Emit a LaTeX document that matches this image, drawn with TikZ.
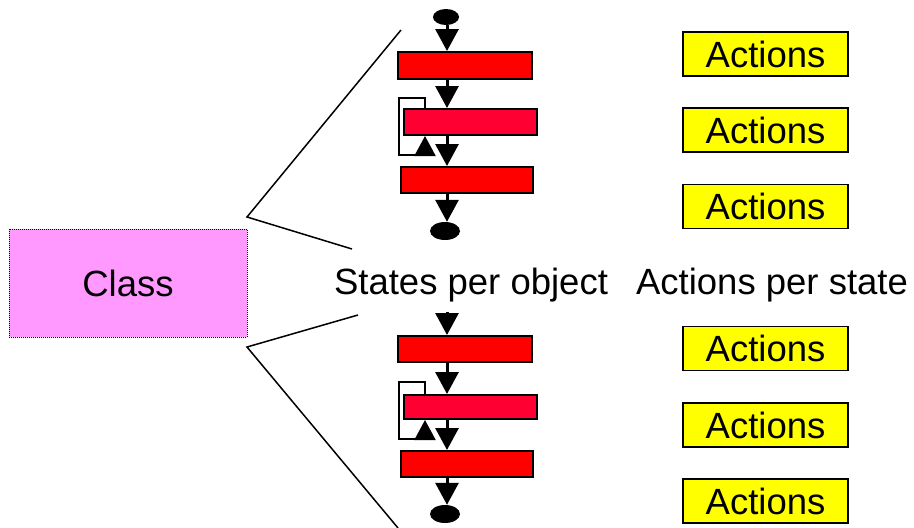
\documentclass[tikz,border=0pt]{standalone}
\usepackage{fontspec}
\setmainfont{Liberation Sans}
\usetikzlibrary{arrows.meta,shapes.geometric}
\definecolor{redA}{HTML}{FF0000}
\definecolor{redB}{HTML}{FF0033}
\definecolor{pinkC}{HTML}{FF99FF}
\definecolor{yellA}{HTML}{FFFF00}
\tikzset{
  big/.style={font=\fontsize{36.5}{40}\selectfont},
  statebox/.style={draw=black,line width=2pt,fill=redA,minimum width=134pt,minimum height=27pt,inner sep=0pt},
  actbox/.style={draw=black,line width=1.5pt,fill=yellA,minimum width=165pt,minimum height=44pt,inner sep=0pt,big},
  dotnode/.style={ellipse,fill=black,inner sep=0pt},
  flowarr/.style={line width=3pt,-{Triangle[width=23pt,length=22pt]}},
  looparr/.style={line width=2pt,-{Triangle[width=21pt,length=20pt]}},
  fan/.style={line width=1.5pt}
}
\begin{document}
\begin{tikzpicture}[x=1pt,y=-1pt]
\useasboundingbox (0,0) rectangle (914,528);
% Class
\node[draw=black,densely dotted,line width=1pt,fill=pinkC,minimum width=238pt,minimum height=108pt,inner sep=0pt,big] (cls) at (128,283) {Class};
% fan lines
\coordinate (v1) at (247,217);
\coordinate (v1a) at (401,30);
\coordinate (v1b) at (352,249);
\coordinate (v2) at (247,347);
\coordinate (v2a) at (358,315);
\coordinate (v2b) at (398,528);
\draw[fan] (v1a) -- (v1) -- (v1b);
\draw[fan] (v2a) -- (v2) -- (v2b);
% labels
\node[big] (spo) at (471,285) {States per object};
\node[big] (aps) at (772,285) {Actions per state};
% top flow
\coordinate (ax) at (447,0);
\node[dotnode,minimum width=26pt,minimum height=16pt] (e1) at (446,17) {};
\node[statebox] (b1) at (465,65.5) {};
\node[statebox,fill=redB,minimum width=133pt,minimum height=26pt] (b2) at (470.5,122) {};
\node[statebox,minimum width=132pt,minimum height=26pt] (b3) at (467,180) {};
\node[dotnode,minimum width=30pt,minimum height=18pt] (e2) at (445,231) {};
\draw[flowarr] (e1.south -| ax) -- (b1.north -| ax);
\draw[flowarr] (b1.south -| ax) -- (b2.north -| ax);
\draw[flowarr] (b2.south -| ax) -- (b3.north -| ax);
\draw[flowarr] (b3.south -| ax) -- (e2.north -| ax);
\coordinate (l1) at (425,98);
\coordinate (l2) at (399,98);
\coordinate (l3) at (399,155);
\coordinate (l4) at (425,155);
\draw[looparr] (b2.north -| l1) -- (l1) -- (l2) -- (l3) -- (l4) -- (b2.south -| l4);
% bottom flow
\coordinate (s0) at (447,312);
\node[statebox,minimum height=26pt] (c1) at (465,349) {};
\node[statebox,fill=redB,minimum width=133pt,minimum height=24pt] (c2) at (470.5,407) {};
\node[statebox,minimum width=132pt,minimum height=26pt] (c3) at (467,464) {};
\node[dotnode,minimum width=30pt,minimum height=18pt] (e3) at (445,514) {};
\draw[flowarr] (s0) -- (c1.north -| ax);
\draw[flowarr] (c1.south -| ax) -- (c2.north -| ax);
\draw[flowarr] (c2.south -| ax) -- (c3.north -| ax);
\draw[flowarr] (c3.south -| ax) -- (e3.north -| ax);
\coordinate (m1) at (425,382);
\coordinate (m2) at (399,382);
\coordinate (m3) at (399,439);
\coordinate (m4) at (425,439);
\draw[looparr] (c2.north -| m1) -- (m1) -- (m2) -- (m3) -- (m4) -- (c2.south -| m4);
% actions
\node[actbox] (a1) at (765.5,54) {Actions};
\node[actbox] (a2) at (765.5,130) {Actions};
\node[actbox] (a3) at (765.5,206.5) {Actions};
\node[actbox] (a4) at (765.5,348.5) {Actions};
\node[actbox] (a5) at (765.5,425) {Actions};
\node[actbox] (a6) at (765.5,501) {Actions};
\end{tikzpicture}
\end{document}
